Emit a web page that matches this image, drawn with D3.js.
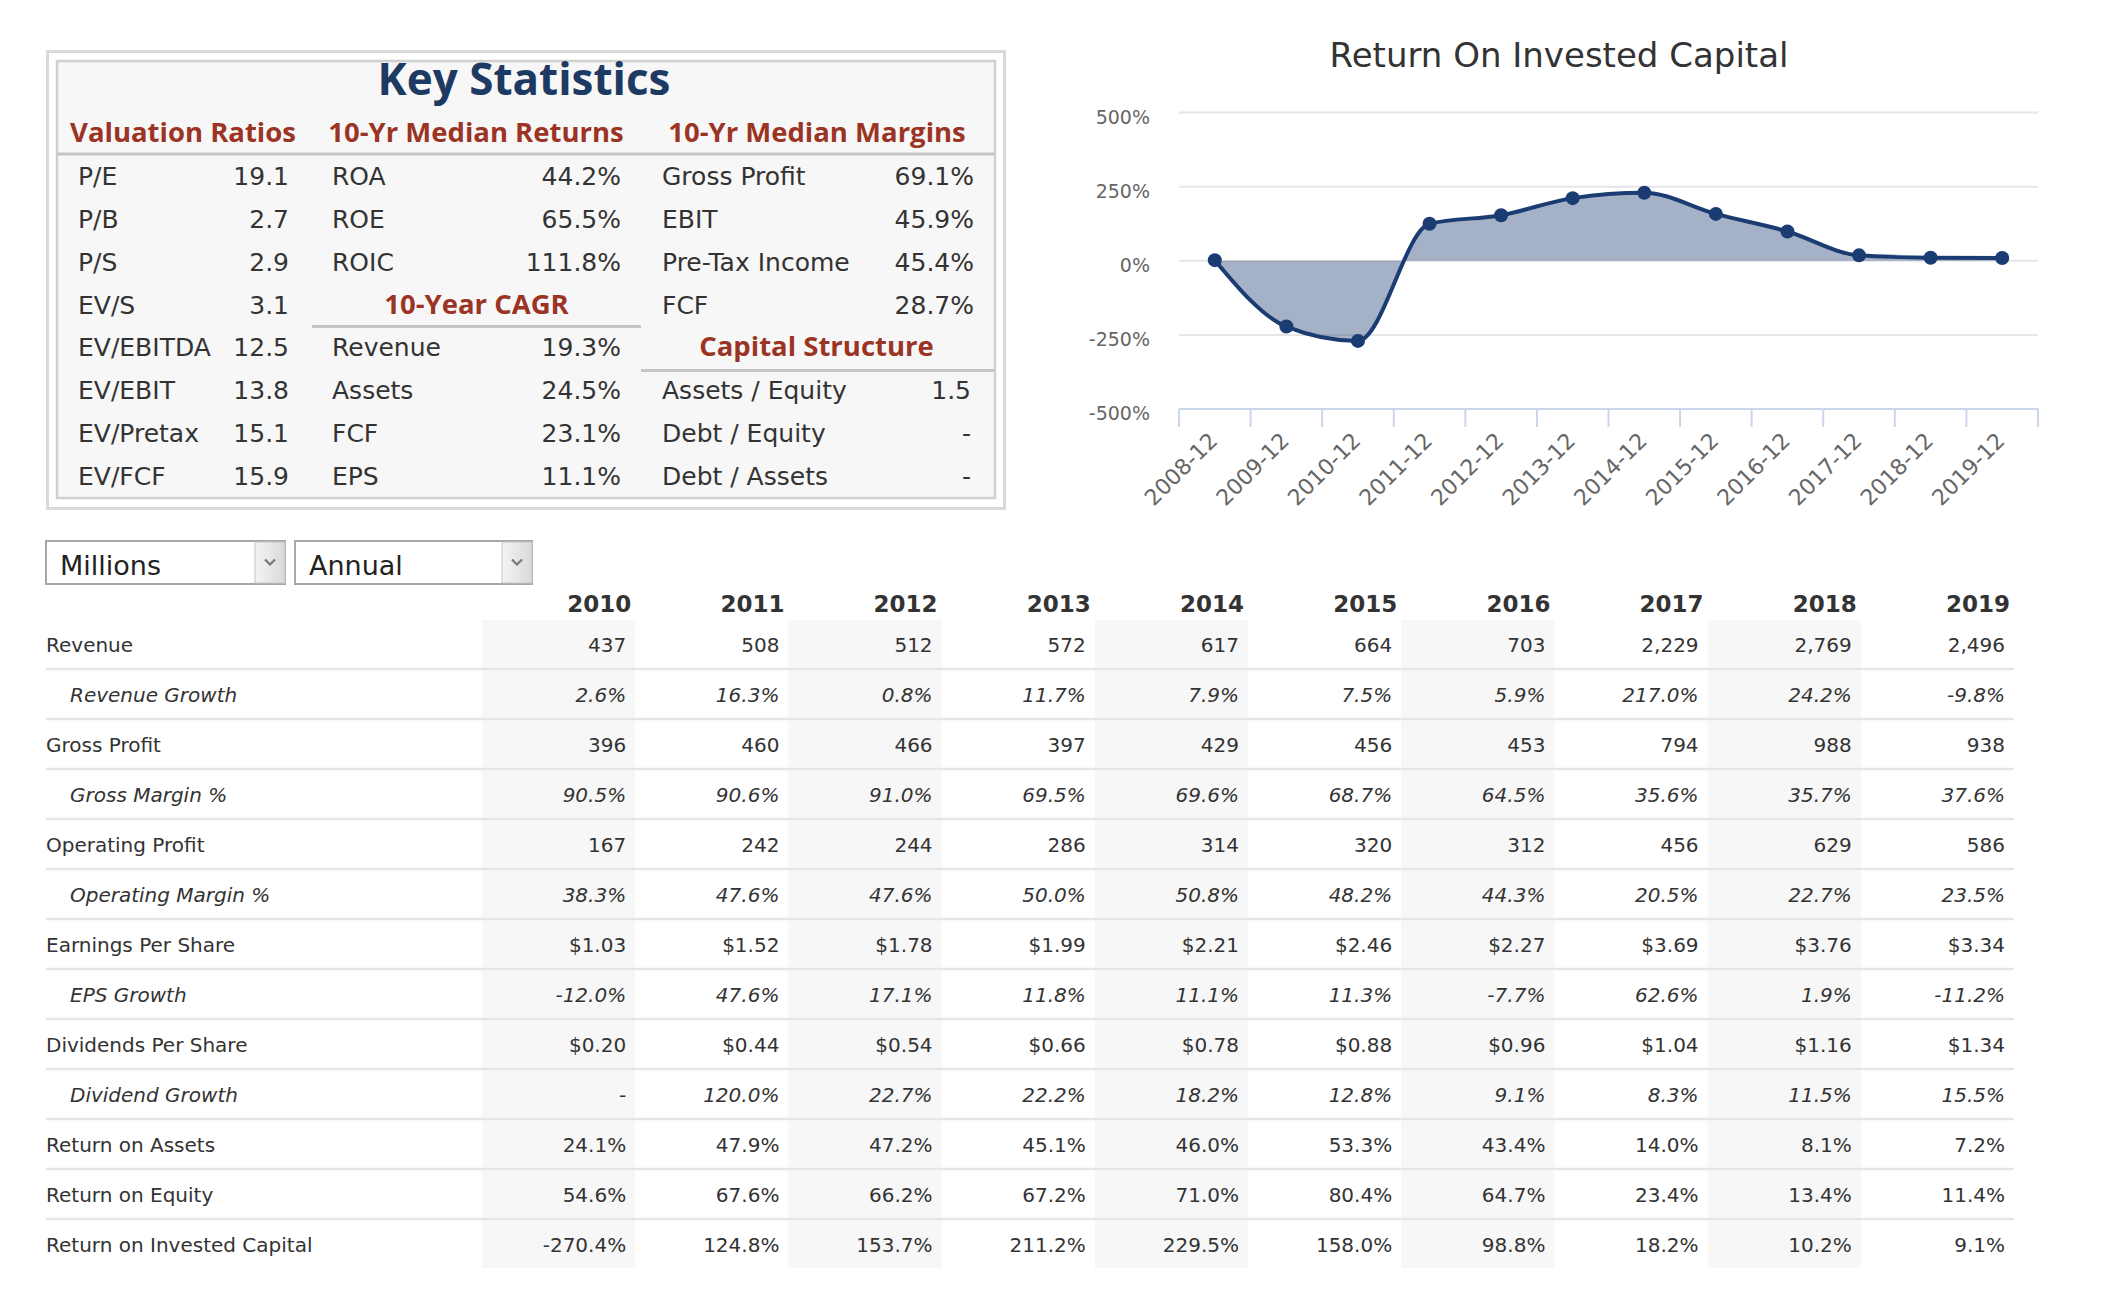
<!DOCTYPE html>
<html><head><meta charset="utf-8">
<script src="https://cdn.jsdelivr.net/npm/d3@7"></script>
<style>
html,body{margin:0;padding:0;background:#fff;}
svg{display:block;}
</style></head>
<body>
<svg id="chart" width="2102" height="1306"></svg>
<script>
// ---------- Key statistics data ----------
const valuationLabels = ["P/E","P/B","P/S","EV/S","EV/EBITDA","EV/EBIT","EV/Pretax","EV/FCF"];
const valuationValues = ["19.1","2.7","2.9","3.1","12.5","13.8","15.1","15.9"];
const returnsLabels = ["ROA","ROE","ROIC"];
const returnsValues = ["44.2%","65.5%","111.8%"];
const cagrLabels = ["Revenue","Assets","FCF","EPS"];
const cagrValues = ["19.3%","24.5%","23.1%","11.1%"];
const marginLabels = ["Gross Profit","EBIT","Pre-Tax Income","FCF"];
const marginValues = ["69.1%","45.9%","45.4%","28.7%"];
const capLabels = ["Assets / Equity","Debt / Equity","Debt / Assets"];
const capValues = ["1.5","-","-"];

// ---------- ROIC chart data ----------
const roicCategories = ["2008-12","2009-12","2010-12","2011-12","2012-12","2013-12","2014-12","2015-12","2016-12","2017-12","2018-12","2019-12"];
const roicValues = [2, -222, -270.4, 124.8, 153.7, 211.2, 229.5, 158.0, 98.8, 18.2, 10.2, 9.1];
const roicTicks = [-500, -250, 0, 250, 500];

// ---------- Financial table data ----------
const years = [2010,2011,2012,2013,2014,2015,2016,2017,2018,2019];
const revenue = [437,508,512,572,617,664,703,2229,2769,2496];
const revenueGrowth = [2.6,16.3,0.8,11.7,7.9,7.5,5.9,217.0,24.2,-9.8];
const grossProfit = [396,460,466,397,429,456,453,794,988,938];
const grossMargin = [90.5,90.6,91.0,69.5,69.6,68.7,64.5,35.6,35.7,37.6];
const operatingProfit = [167,242,244,286,314,320,312,456,629,586];
const operatingMargin = [38.3,47.6,47.6,50.0,50.8,48.2,44.3,20.5,22.7,23.5];
const eps = [1.03,1.52,1.78,1.99,2.21,2.46,2.27,3.69,3.76,3.34];
const epsGrowth = [-12.0,47.6,17.1,11.8,11.1,11.3,-7.7,62.6,1.9,-11.2];
const dps = [0.20,0.44,0.54,0.66,0.78,0.88,0.96,1.04,1.16,1.34];
const dividendGrowth = [null,120.0,22.7,22.2,18.2,12.8,9.1,8.3,11.5,15.5];
const roa = [24.1,47.9,47.2,45.1,46.0,53.3,43.4,14.0,8.1,7.2];
const roe = [54.6,67.6,66.2,67.2,71.0,80.4,64.7,23.4,13.4,11.4];
const roicRow = [-270.4,124.8,153.7,211.2,229.5,158.0,98.8,18.2,10.2,9.1];
const unitOptions = ["Millions"];
const periodOptions = ["Annual"];

// ---------- formatting ----------
const fmtInt = d3.format(",");
const fmtPct = v => v == null ? "-" : (v < 0 ? "-" : "") + Math.abs(v).toFixed(1) + "%";
const fmtUsd = v => (v < 0 ? "-" : "") + "$" + Math.abs(v).toFixed(2);
const fmtAxis = v => (v < 0 ? "-" : "") + Math.abs(v) + "%";

const tableRows = [
  {label:"Revenue", values:revenue, fmt:fmtInt, italic:false},
  {label:"Revenue Growth", values:revenueGrowth, fmt:fmtPct, italic:true},
  {label:"Gross Profit", values:grossProfit, fmt:fmtInt, italic:false},
  {label:"Gross Margin %", values:grossMargin, fmt:fmtPct, italic:true},
  {label:"Operating Profit", values:operatingProfit, fmt:fmtInt, italic:false},
  {label:"Operating Margin %", values:operatingMargin, fmt:fmtPct, italic:true},
  {label:"Earnings Per Share", values:eps, fmt:fmtUsd, italic:false},
  {label:"EPS Growth", values:epsGrowth, fmt:fmtPct, italic:true},
  {label:"Dividends Per Share", values:dps, fmt:fmtUsd, italic:false},
  {label:"Dividend Growth", values:dividendGrowth, fmt:fmtPct, italic:true},
  {label:"Return on Assets", values:roa, fmt:fmtPct, italic:false},
  {label:"Return on Equity", values:roe, fmt:fmtPct, italic:false},
  {label:"Return on Invested Capital", values:roicRow, fmt:fmtPct, italic:false}
];

const svg = d3.select("#chart");
const BODY = "'DejaVu Sans', Verdana, sans-serif";
const HEAD = "'Open Sans', 'DejaVu Sans', sans-serif";
const RED = "#9b3424";
const TXT = "#333";

// =============== KEY STATISTICS PANEL ===============
const ks = svg.append("g");
ks.append("rect").attr("x",47.5).attr("y",51.5).attr("width",957).attr("height",457)
  .attr("fill","#fff").attr("stroke","#dadada").attr("stroke-width",3);
ks.append("rect").attr("x",57).attr("y",61).attr("width",938).attr("height",437)
  .attr("fill","#f7f7f7").attr("stroke","#d0d0d0").attr("stroke-width",2.5);
ks.append("text").attr("x",524).attr("y",95).attr("text-anchor","middle")
  .attr("font-family",HEAD).attr("font-weight",700).attr("font-size",44)
  .attr("fill","#1d3a63").text("Key Statistics");

const ksRow = d3.scaleLinear().domain([0,7]).range([185,485]);
const groupHeads = [
  {t:"Valuation Ratios", x:183, y:141.7},
  {t:"10-Yr Median Returns", x:476, y:141.7},
  {t:"10-Yr Median Margins", x:817, y:141.7},
  {t:"10-Year CAGR", x:476.5, y:ksRow(3)},
  {t:"Capital Structure", x:816.5, y:ksRow(4)}
];
ks.selectAll("text.gh").data(groupHeads).join("text").attr("class","gh")
  .attr("x",d=>d.x).attr("y",d=>d.y).attr("text-anchor","middle")
  .attr("font-family",HEAD).attr("font-weight",700).attr("font-size",27.5)
  .attr("fill",RED).text(d=>d.t);
const ksLines = [
  {x1:57, x2:995, y:154},
  {x1:312, x2:641, y:ksRow(3)+13},
  {x1:641, x2:995, y:ksRow(4)+14}
];
ks.selectAll("line.gl").data(ksLines).join("line").attr("class","gl")
  .attr("x1",d=>d.x1).attr("x2",d=>d.x2).attr("y1",d=>d.y).attr("y2",d=>d.y)
  .attr("stroke","#c6c6c6").attr("stroke-width",3);

function ksColumn(labels, values, startRow, lx, vx){
  const g = ks.append("g");
  labels.forEach((l,i)=>{
    const yy = ksRow(startRow+i);
    g.append("text").attr("x",lx).attr("y",yy).attr("font-family",BODY).attr("font-size",25)
      .attr("fill",TXT).text(l);
    g.append("text").attr("x",vx).attr("y",yy).attr("text-anchor","end").attr("font-family",BODY)
      .attr("font-size",25).attr("fill",TXT).text(values[i]);
  });
}
ksColumn(valuationLabels, valuationValues, 0, 78, 289);
ksColumn(returnsLabels, returnsValues, 0, 332, 621);
ksColumn(cagrLabels, cagrValues, 4, 332, 621);
ksColumn(marginLabels, marginValues, 0, 662, 974);
ksColumn(capLabels, capValues, 5, 662, 971);

// =============== ROIC CHART ===============
const ch = svg.append("g");
const x = d3.scaleBand().domain(roicCategories).range([1179, 2038]);
const y = d3.scaleLinear().domain([-500, 500]).range([409, 112.5]);
const cx = d => x(d) + x.bandwidth()/2;

ch.append("text").attr("x",1559).attr("y",67).attr("text-anchor","middle")
  .attr("font-family",BODY).attr("font-size",34).attr("fill","#333")
  .text("Return On Invested Capital");

// grid
ch.selectAll("line.grid").data(roicTicks.filter(t=>t>-500)).join("line").attr("class","grid")
  .attr("x1",1179).attr("x2",2038).attr("y1",d=>y(d)).attr("y2",d=>y(d))
  .attr("stroke","#e6e6e6").attr("stroke-width",2);
// y labels
ch.selectAll("text.yl").data(roicTicks).join("text").attr("class","yl")
  .attr("x",1150).attr("y",d=>y(d)+11).attr("text-anchor","end")
  .attr("font-family",BODY).attr("font-size",19).attr("fill","#666").text(fmtAxis);

// area + line
const pts = roicCategories.map((c,i)=>({c, v:roicValues[i]}));
const area = d3.area().x(d=>cx(d.c)).y0(y(0)).y1(d=>y(d.v)).curve(d3.curveMonotoneX);
const line = d3.line().x(d=>cx(d.c)).y(d=>y(d.v)).curve(d3.curveMonotoneX);
ch.append("path").datum(pts).attr("d",area).attr("fill","#1c3d74").attr("fill-opacity",0.4);
ch.append("path").datum(pts).attr("d",line).attr("fill","none").attr("stroke","#1b3c72")
  .attr("stroke-width",4).attr("stroke-linejoin","round");
ch.selectAll("circle").data(pts).join("circle").attr("cx",d=>cx(d.c)).attr("cy",d=>y(d.v))
  .attr("r",7).attr("fill","#1b3c72");

// x axis
const xAxisG = ch.append("g");
xAxisG.append("line").attr("x1",1179).attr("x2",2038).attr("y1",y(-500)).attr("y2",y(-500))
  .attr("stroke","#ccd6eb").attr("stroke-width",2);
const tickPos = roicCategories.map(c=>x(c)).concat([x.range()[1]]);
xAxisG.selectAll("line.tk").data(tickPos).join("line").attr("class","tk")
  .attr("x1",d=>d).attr("x2",d=>d).attr("y1",y(-500)).attr("y2",y(-500)+18)
  .attr("stroke","#ccd6eb").attr("stroke-width",2);
xAxisG.selectAll("text.xl").data(roicCategories).join("text").attr("class","xl")
  .attr("transform",d=>`translate(${cx(d)+4},${y(-500)+33}) rotate(-45)`)
  .attr("text-anchor","end").attr("font-family",BODY).attr("font-size",22)
  .attr("fill","#666").text(d=>d);

// =============== DROPDOWNS ===============
function dropdown(x0, x1, label){
  const g = svg.append("g");
  const y0 = 540, h = 45, aw = 30;
  g.append("rect").attr("x",x0+1).attr("y",y0+1).attr("width",x1-x0-2).attr("height",h-2)
    .attr("fill","#fff").attr("stroke","#a8a8a8").attr("stroke-width",2);
  const gid = "grad"+x0;
  const grad = svg.append("defs").append("linearGradient").attr("id",gid).attr("x1",0).attr("x2",1).attr("y1",0).attr("y2",0);
  grad.append("stop").attr("offset","0%").attr("stop-color","#f4f4f4");
  grad.append("stop").attr("offset","100%").attr("stop-color","#d9d9d9");
  g.append("rect").attr("x",x1-aw-1).attr("y",y0+2).attr("width",aw).attr("height",h-4)
    .attr("fill",`url(#${gid})`).attr("stroke","#c4c4c4").attr("stroke-width",1);
  const ax = x1 - 1 - aw/2, ay = y0 + h/2;
  g.append("path").attr("d",`M${ax-5},${ay-3} L${ax},${ay+2} L${ax+5},${ay-3}`)
    .attr("fill","none").attr("stroke","#777").attr("stroke-width",2.2);
  g.append("text").attr("x",x0+15).attr("y",575).attr("font-family",BODY).attr("font-size",27)
    .attr("fill","#222").text(label);
}
dropdown(45, 286, unitOptions[0]);
dropdown(294, 533, periodOptions[0]);

// =============== FINANCIAL TABLE ===============
const tb = svg.append("g");
const col = d3.scaleBand().domain(years).range([482, 2014]);
const rowY = d3.scaleLinear().domain([0,1]).range([652, 702]);

// shaded alternate columns
tb.selectAll("rect.shade").data(years.filter((d,i)=>i%2===0)).join("rect").attr("class","shade")
  .attr("x",d=>col(d)).attr("width",col.bandwidth()).attr("y",620).attr("height",648)
  .attr("fill","#f7f7f7");
// separators
tb.selectAll("line.sep").data(d3.range(tableRows.length-1)).join("line").attr("class","sep")
  .attr("x1",46).attr("x2",2014).attr("y1",i=>rowY(i)+17).attr("y2",i=>rowY(i)+17)
  .attr("stroke","#e6e6e6").attr("stroke-width",2.5);
// header years
tb.selectAll("text.yr").data(years).join("text").attr("class","yr")
  .attr("x",d=>col(d)+col.bandwidth()-4).attr("y",612).attr("text-anchor","end")
  .attr("font-family",BODY).attr("font-weight",700).attr("font-size",23).attr("fill","#333")
  .text(d=>d);
// rows
tableRows.forEach((r,i)=>{
  const yy = rowY(i);
  tb.append("text").attr("x",r.italic?70:46).attr("y",yy).attr("font-family",BODY)
    .attr("font-size",20).attr("font-style",r.italic?"italic":"normal").attr("fill",TXT).text(r.label);
  tb.selectAll(null).data(r.values).join("text")
    .attr("x",(d,j)=>col(years[j])+col.bandwidth()-9).attr("y",yy).attr("text-anchor","end")
    .attr("font-family",BODY).attr("font-size",20).attr("font-style",r.italic?"italic":"normal")
    .attr("fill",TXT).text(d=>r.fmt(d));
});
</script>
</body></html>
